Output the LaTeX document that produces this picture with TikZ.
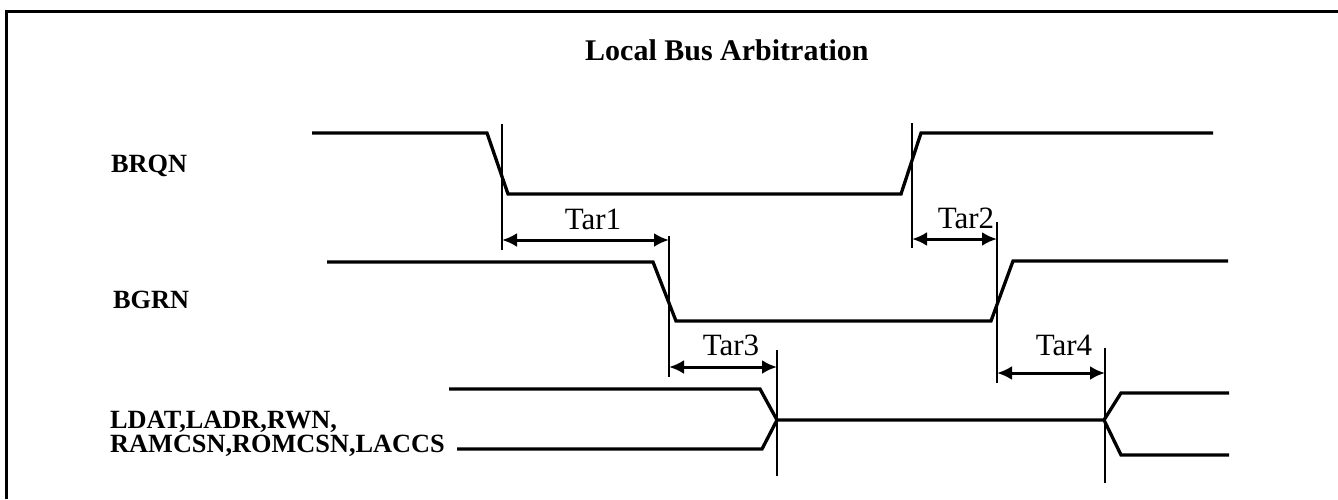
\documentclass[tikz,border=0pt]{standalone}
\usepackage{fontspec}
\setmainfont{Liberation Serif}
\usetikzlibrary{arrows.meta}
\begin{document}
\begin{tikzpicture}[x=1pt,y=-1pt,
  wave/.style={line width=3.3pt, line join=miter},
  guide/.style={line width=2.2pt},
  span/.style={line width=3pt, {Latex[length=15pt,width=14pt]}-{Latex[length=15pt,width=14pt]}},
  sigtext/.style={font=\bfseries\fontsize{26.3}{24}\selectfont, anchor=base west, inner sep=0pt},
  tartext/.style={font=\fontsize{31}{31}\selectfont, anchor=base, inner sep=0pt}]
\useasboundingbox (0,0) rectangle (1338,499);
% frame
\draw[line width=3.2pt] (6.5,499) -- (6.5,11.5) -- (1338,11.5);
% title
\node[font=\bfseries\fontsize{30}{30}\selectfont, anchor=base west, inner sep=0pt] (title) at (585,60) {Local Bus Arbitration};
% signal names
\node[sigtext] (brqn) at (111,172) {BRQN};
\node[sigtext] (bgrn) at (113,308) {BGRN};
\node[sigtext] (ldat1) at (110,428) {LDAT,LADR,RWN,};
\node[sigtext] (ldat2) at (110,452) {RAMCSN,ROMCSN,LACCS};
% waveforms
\draw[wave] (312,133) -- (487,133) -- (508,194) -- (901,194) -- (921,133) -- (1213,133);
\draw[wave] (327,262) -- (653,262) -- (676,321) -- (991,321) -- (1013,261) -- (1228,261);
\draw[wave] (449,389) -- (760,389) -- (777,420) -- (1104,420) -- (1121,393) -- (1229,393);
\draw[wave] (457,449) -- (762,449) -- (777,420);
\draw[wave] (1104,420) -- (1121,455) -- (1229,455);
% guide lines
\coordinate (g1t) at (502,124); \coordinate (g1b) at (502,250);
\coordinate (g2t) at (912,123); \coordinate (g2b) at (912,248);
\coordinate (g3t) at (669,236); \coordinate (g3b) at (669,377);
\coordinate (g4t) at (997,222); \coordinate (g4b) at (997,383);
\coordinate (g5t) at (777,350); \coordinate (g5b) at (777,476);
\coordinate (g6t) at (1105,348); \coordinate (g6b) at (1105,483);
\foreach \g in {1,...,6} \draw[guide] (g\g t) -- (g\g b);
% timing spans
\coordinate (s1a) at (502,240); \coordinate (s1b) at (669,240);
\coordinate (s2a) at (912,239); \coordinate (s2b) at (997,239);
\coordinate (s3a) at (669,367); \coordinate (s3b) at (777,367);
\coordinate (s4a) at (997,373); \coordinate (s4b) at (1105,373);
\foreach \s in {1,...,4} \draw[span] (s\s a) -- (s\s b);
\node[tartext] (tar1) at (593,229) {Tar1};
\node[tartext] (tar2) at (966,228) {Tar2};
\node[tartext] (tar3) at (731,355) {Tar3};
\node[tartext] (tar4) at (1064,355) {Tar4};
\end{tikzpicture}
\end{document}
